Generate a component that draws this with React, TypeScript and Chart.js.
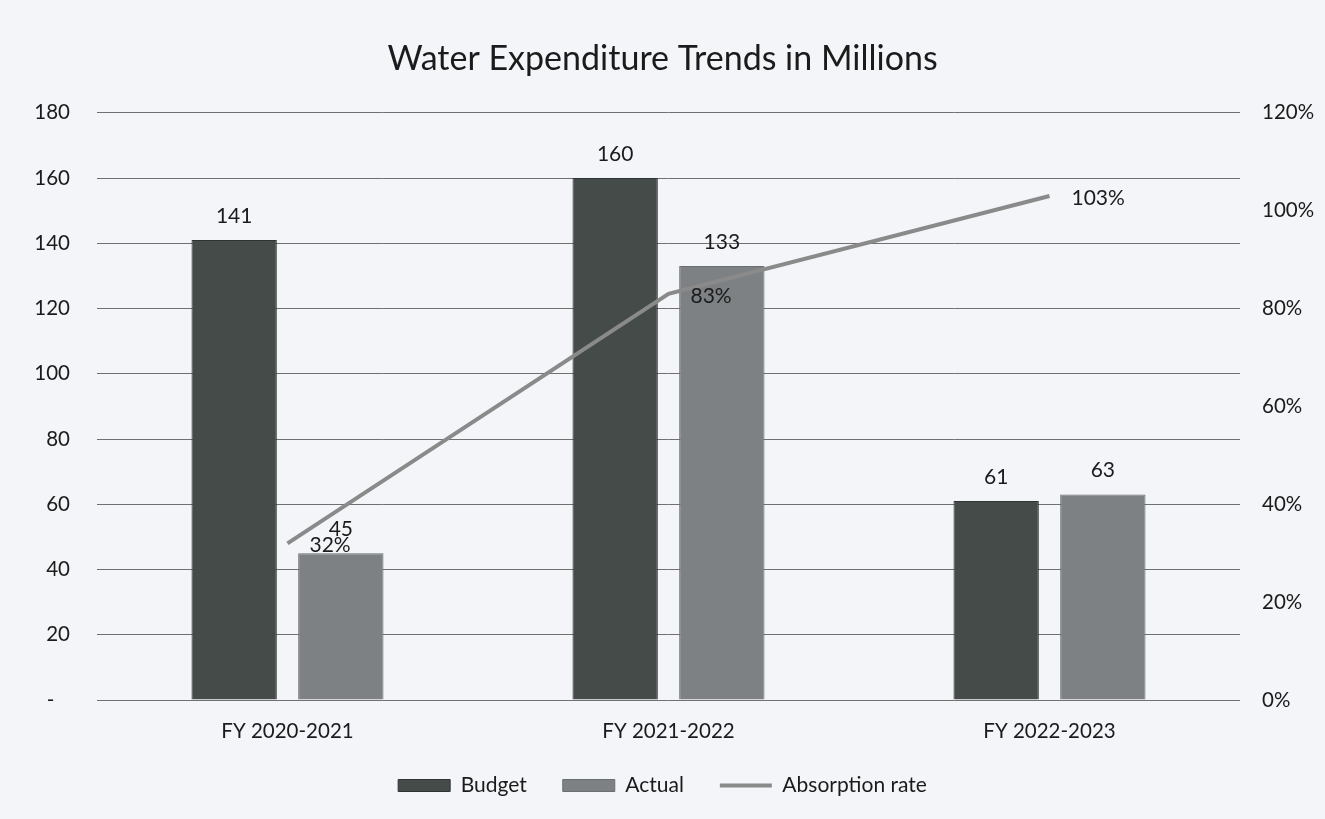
import React, { useEffect, useRef } from "react";
import { Chart, registerables } from "chart.js";

Chart.register(...registerables);

const categories = ["FY 2020-2021", "FY 2021-2022", "FY 2022-2023"];
const budget = [141, 160, 61];
const actual = [45, 133, 63];
const absorption = [32, 83, 103];
const leftTicks = [0, 20, 40, 60, 80, 100, 120, 140, 160, 180];
const rightTicks = [0, 20, 40, 60, 80, 100, 120];
const titleText = "Water Expenditure Trends in Millions";

const FONT = "Lato, 'Open Sans', sans-serif";
const TEXT = "#1b1b1b";

const bgPlugin = {
  id: "bgFill",
  beforeDraw(chart: any) {
    const { ctx, width, height } = chart;
    ctx.save();
    ctx.fillStyle = "#f4f5f9";
    ctx.fillRect(0, 0, width, height);
    ctx.restore();
  },
};

const labelPlugin = {
  id: "valueLabels",
  afterDatasetsDraw(chart: any) {
    const { ctx } = chart;
    ctx.save();
    ctx.fillStyle = TEXT;
    ctx.font = `21px ${FONT}`;
    chart.data.datasets.forEach((ds: any, i: number) => {
      const meta = chart.getDatasetMeta(i);
      meta.data.forEach((el: any, j: number) => {
        const v = ds.data[j];
        if (ds.type === "line") {
          ctx.textAlign = "left";
          ctx.textBaseline = "middle";
          ctx.fillText(v + "%", el.x + 22, el.y + 2);
        } else {
          ctx.textAlign = "center";
          ctx.textBaseline = "alphabetic";
          ctx.fillText(String(v), el.x, el.y - 17);
        }
      });
    });
    ctx.restore();
  },
};

export default function App() {
  const ref = useRef<HTMLCanvasElement | null>(null);
  useEffect(() => {
    document.body.style.margin = "0";
    const chart = new Chart(ref.current as HTMLCanvasElement, {
      type: "bar",
      data: {
        labels: categories,
        datasets: [
          {
            type: "bar",
            label: "Budget",
            data: budget,
            backgroundColor: "#444b48",
            borderColor: "#2e3431",
            borderWidth: 1,
            pointStyle: "rect",
            yAxisID: "y",
            order: 1,
            categoryPercentage: 0.56,
            barPercentage: 0.8,
          },
          {
            type: "bar",
            label: "Actual",
            data: actual,
            backgroundColor: "#7d8183",
            borderColor: "#6a6e6f",
            borderWidth: 1,
            pointStyle: "rect",
            yAxisID: "y",
            order: 1,
            categoryPercentage: 0.56,
            barPercentage: 0.8,
          },
          {
            type: "line",
            label: "Absorption rate",
            data: absorption,
            borderColor: "#8a8a8a",
            backgroundColor: "#8a8a8a",
            borderWidth: 4,
            pointRadius: 0,
            pointStyle: "line",
            yAxisID: "y1",
            order: 0,
          },
        ] as any,
      },
      options: {
        animation: false,
        responsive: false,
        layout: { padding: { left: 0, right: 0, top: 0, bottom: 13 } },
        plugins: {
          title: {
            display: true,
            text: titleText,
            color: TEXT,
            font: { family: FONT, size: 34, weight: "normal" },
            padding: { top: 39, bottom: 33 },
          },
          legend: {
            position: "bottom",
            labels: {
              color: TEXT,
              font: { family: FONT, size: 21 },
              usePointStyle: true,
              pointStyleWidth: 52,
              boxHeight: 12,
              padding: 36,
              sort: (a: any, b: any) => a.datasetIndex - b.datasetIndex,
            },
          },
          tooltip: { enabled: false },
        },
        scales: {
          x: {
            grid: { display: false, drawTicks: false },
            border: { display: false },
            ticks: { color: TEXT, font: { family: FONT, size: 20.5 }, padding: 19 },
            afterFit: (s: any) => {
              s.height = 39;
            },
          },
          y: {
            position: "left",
            min: 0,
            max: 180,
            afterBuildTicks: (s: any) => {
              s.ticks = leftTicks.map((v) => ({ value: v }));
            },
            ticks: {
              color: TEXT,
              font: { family: FONT, size: 20.5 },
              padding: 27,
              callback: (v: any) => (Number(v) === 0 ? "-   " : String(v)),
            },
            grid: { color: "#707070", lineWidth: 1, drawTicks: false },
            border: { display: false },
            afterFit: (s: any) => {
              s.width = 97;
            },
          },
          y1: {
            position: "right",
            min: 0,
            max: 120,
            afterBuildTicks: (s: any) => {
              s.ticks = rightTicks.map((v) => ({ value: v }));
            },
            ticks: {
              color: TEXT,
              font: { family: FONT, size: 20.5 },
              padding: 22,
              callback: (v: any) => v + "%",
            },
            grid: { display: false, drawTicks: false },
            border: { display: false },
            afterFit: (s: any) => {
              s.width = 85;
            },
          },
        },
      } as any,
      plugins: [bgPlugin, labelPlugin],
    });
    return () => chart.destroy();
  }, []);
  return (
    <div style={{ position: "absolute", left: 0, top: 0, width: 1325, height: 819 }}>
      <canvas ref={ref} width={1325} height={819} style={{ display: "block" }} />
    </div>
  );
}
